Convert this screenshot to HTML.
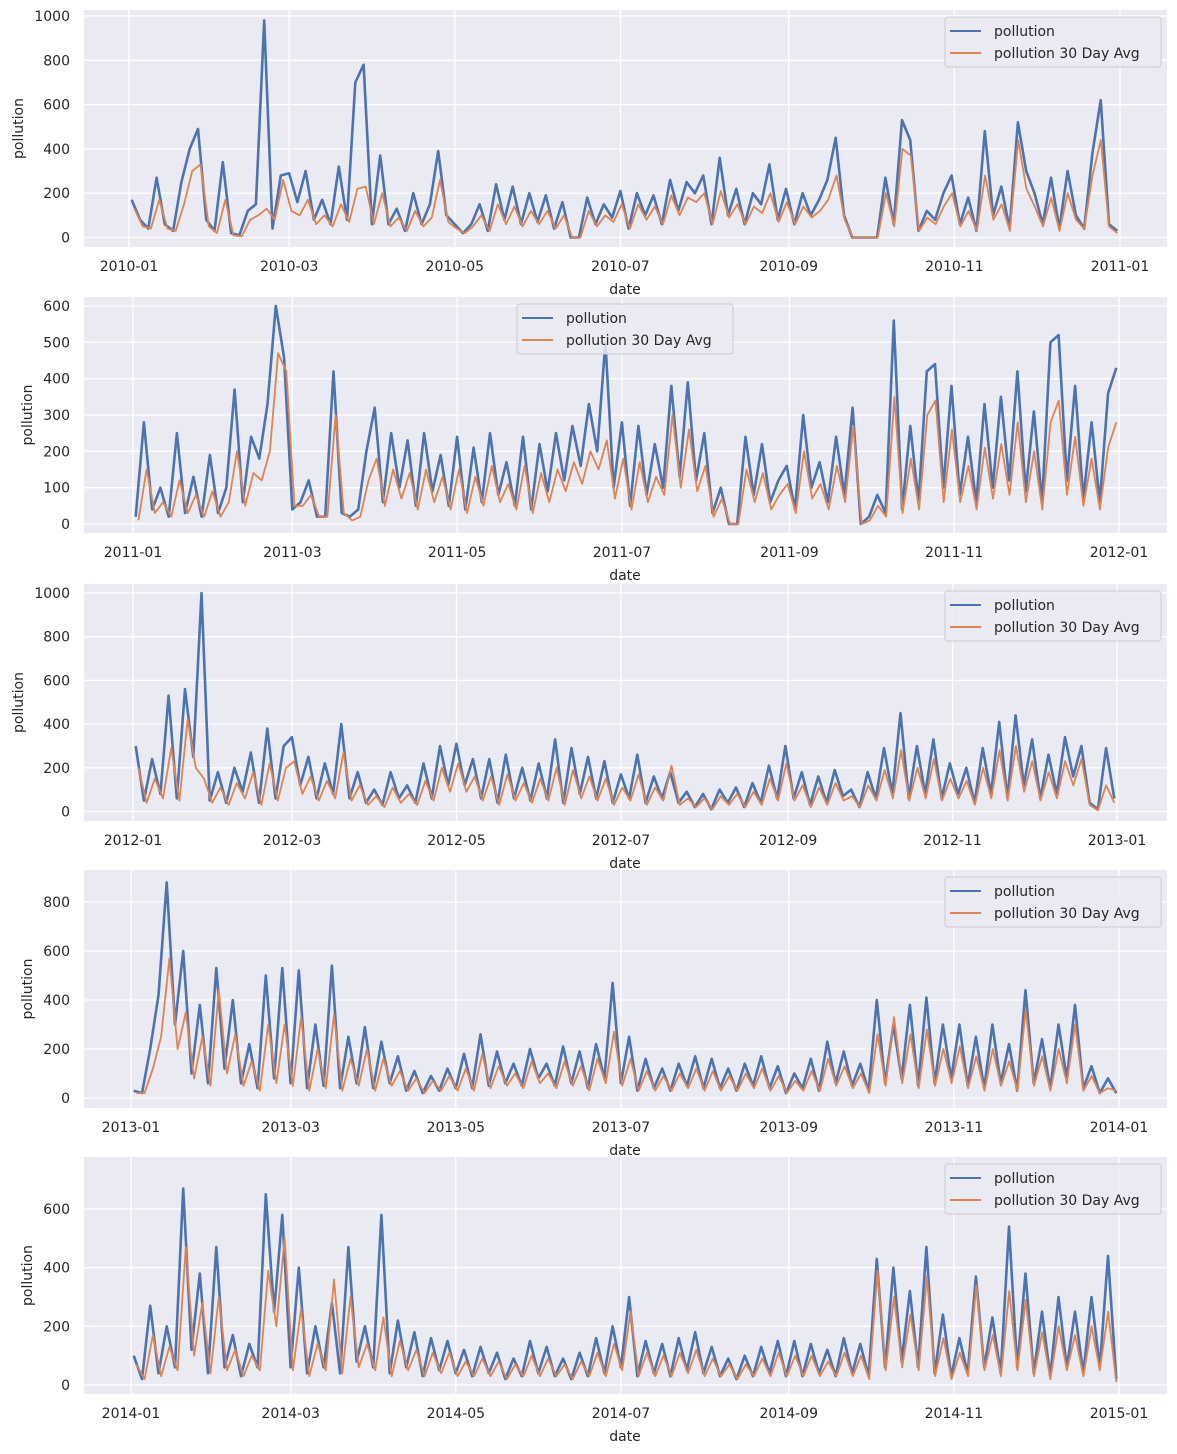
<!DOCTYPE html>
<html><head><meta charset="utf-8">
<style>
html,body{margin:0;padding:0;background:#fff;}
svg{display:block;font-family:"DejaVu Sans","Liberation Sans",sans-serif;}
</style></head>
<body>
<svg id="chart" width="1177" height="1454" viewBox="0 0 1177 1454" xmlns="http://www.w3.org/2000/svg"></svg>
<script>
// ---- data (approx readings, 10 samples per month) ----
const years = ["2010","2011","2012","2013","2014"];
const blue2010 = [170,80,40,270,60,30,250,400,490,80, 30,340,20,10,120,150,980,40,280,290, 160,300,80,170,60,320,80,700,780,60, 370,60,130,30,200,60,150,390,100,60, 20,60,150,30,240,80,230,60,200,70, 190,40,160,0,0,180,60,150,90,210, 40,200,100,190,60,260,120,250,200,280, 60,360,100,220,60,200,150,330,80,220, 60,200,100,170,260,450,100,0,0,0, 0,270,60,530,440,30,120,80,200,280, 60,180,30,480,100,230,40,520,300,200, 60,270,40,300,100,40,380,620,60,30];
const avg2010 = [130,50,40,170,40,30,150,300,330,50, 20,170,10,5,80,100,130,80,260,120, 100,170,60,100,50,150,70,220,230,60, 200,50,90,30,120,50,90,260,70,40, 20,50,100,30,150,60,140,50,120,60, 120,40,100,0,0,120,50,100,70,150, 40,150,80,140,60,190,100,180,160,200, 60,210,90,150,60,140,110,200,70,160, 60,140,90,120,170,280,80,0,0,0, 0,200,50,400,370,30,90,60,140,200, 50,120,30,280,80,150,30,440,220,140, 50,180,30,200,80,40,280,440,50,20];
const blue2011 = [20,280,40,100,20,250,30,130,20,190, 30,100,370,60,240,180,330,600,460,40, 60,120,20,20,420,30,20,40,200,320, 60,250,100,230,50,250,90,190,50,240, 40,210,60,250,80,170,50,240,40,220, 90,250,120,270,160,330,200,500,100,280, 50,270,80,220,100,380,130,390,120,250, 30,100,0,0,240,80,220,60,120,160, 40,300,100,170,60,240,80,320,0,20, 80,30,560,40,270,60,420,440,100,380, 80,240,60,330,100,350,120,420,90,310, 60,500,520,120,380,70,280,60,360,430];
const avg2011 = [10,150,30,60,20,120,30,80,20,90, 20,60,200,50,140,120,200,470,420,50, 50,80,20,20,300,30,10,20,120,180, 50,150,70,140,40,150,60,130,40,150, 30,130,50,160,60,110,40,160,30,140, 60,150,90,170,110,200,150,230,70,180, 40,170,60,130,80,300,100,260,90,160, 20,70,0,0,150,60,140,40,80,110, 30,200,70,110,40,160,60,270,0,10, 50,20,350,30,180,40,300,340,60,260, 60,160,40,210,70,220,80,280,60,200, 40,280,340,80,240,50,180,40,210,280];
const blue2012 = [300,50,240,80,530,60,560,250,1000,50, 180,40,200,90,270,40,380,60,300,340, 120,250,60,220,80,400,60,180,40,100, 30,180,60,120,40,220,60,300,120,310, 120,240,60,240,40,260,60,200,50,220, 60,330,40,290,80,250,60,230,40,170, 60,260,40,160,60,180,40,90,20,80, 10,100,40,110,20,130,40,210,60,300, 60,180,30,160,40,190,70,100,20,180, 60,290,80,450,60,300,80,330,60,220, 80,200,40,290,80,410,60,440,120,330, 60,260,80,340,160,300,40,10,290,60];
const avg2012 = [200,40,150,60,290,50,420,200,150,40, 110,30,130,60,180,30,220,50,200,230, 80,160,50,140,60,270,50,120,30,70, 20,110,40,80,30,140,50,200,90,220, 90,160,50,160,30,170,50,130,40,150, 50,200,30,190,60,160,50,150,30,110, 50,170,30,110,50,210,30,60,20,60, 10,70,30,80,20,90,30,150,50,220, 50,120,20,110,30,130,50,70,20,120, 50,190,60,280,50,200,60,240,50,150, 60,140,30,200,60,280,50,300,90,230, 50,180,60,230,120,240,30,5,120,40];
const blue2013 = [30,20,200,420,880,300,600,100,380,60, 530,120,400,60,220,40,500,80,530,60, 520,40,300,50,540,40,250,60,290,40, 230,60,170,30,110,20,90,30,120,40, 180,40,260,50,190,60,140,50,200,80, 140,50,210,60,190,40,220,80,470,60, 250,30,160,40,120,30,140,50,170,40, 160,40,120,30,140,50,170,40,130,20, 100,40,160,30,230,60,190,50,140,30, 400,60,300,80,380,50,410,60,300,80, 300,50,250,40,300,60,220,30,440,60, 240,40,300,80,380,40,130,20,80,20];
const avg2013 = [20,20,120,250,570,200,350,80,250,50, 440,100,260,50,150,30,300,60,300,50, 330,30,200,40,340,30,160,50,200,30, 160,50,110,30,80,20,70,30,90,30, 120,30,180,40,130,50,100,40,150,60, 100,40,150,50,130,30,160,60,270,50, 160,30,110,30,90,30,100,40,120,30, 110,30,90,30,100,40,120,30,90,20, 70,30,110,30,160,50,130,40,100,20, 260,50,330,60,260,40,280,50,200,60, 210,40,170,30,200,50,150,30,360,50, 170,30,200,60,300,30,90,20,40,30];
const blue2014 = [100,20,270,40,200,60,670,120,380,40, 470,60,170,30,140,60,650,250,580,60, 400,40,200,60,280,40,470,80,200,60, 580,40,220,60,180,30,160,50,150,40, 120,30,130,40,110,20,90,30,150,40, 130,30,90,20,110,30,160,40,200,60, 300,30,150,40,140,30,160,50,180,40, 130,30,90,20,100,30,130,40,150,30, 150,30,140,40,120,30,160,40,140,30, 430,60,400,80,320,60,470,40,240,30, 160,40,370,60,230,40,540,60,380,40, 250,30,300,60,250,40,300,60,440,20];
const avg2014 = [70,20,170,30,130,50,470,100,280,40, 300,50,120,30,100,50,390,200,500,50, 260,30,140,50,360,40,300,60,140,50, 230,30,150,50,120,30,110,40,110,30, 80,30,90,30,80,20,70,30,100,30, 90,30,70,20,80,30,110,30,140,50, 250,30,110,30,100,30,110,40,120,30, 90,30,70,20,70,30,90,30,110,30, 100,30,100,30,80,30,110,30,100,20, 390,50,300,60,240,50,370,30,160,20, 110,30,340,50,170,30,320,50,290,30, 180,20,200,50,170,30,200,50,250,10];
const blueSeries = [blue2010, blue2011, blue2012, blue2013, blue2014];
const avgSeries = [avg2010, avg2011, avg2012, avg2013, avg2014];
const tickMonths = ["01","03","05","07","09","11","01"];
const tickDays = [0,59,120,181,243,304,365];
const yTicks = [[0,200,400,600,800,1000],[0,100,200,300,400,500,600],[0,200,400,600,800,1000],[0,200,400,600,800],[0,200,400,600]];

// ---- layout config ----
const panels = [
  {top:10, bot:247, y0:237.5, yv:1000, yPix:16,  x0:129, x1:1120, legX:945, ylx:18},
  {top:297,bot:533, y0:524,  yv:600,  yPix:306, x0:133, x1:1119, legX:517, ylx:27},
  {top:584,bot:821, y0:811.5,yv:1000, yPix:593, x0:133, x1:1117, legX:945, ylx:18},
  {top:870,bot:1108,y0:1098, yv:800,  yPix:902, x0:131, x1:1119, legX:945, ylx:27},
  {top:1157,bot:1394,y0:1385,yv:600,  yPix:1209,x0:131, x1:1119, legX:945, ylx:27}
];
const L=84, R=1167;
const svg=document.getElementById('chart');
const NS="http://www.w3.org/2000/svg";
function mk(tag,attrs,parent){const e=document.createElementNS(NS,tag);for(const k in attrs)e.setAttribute(k,attrs[k]);(parent||svg).appendChild(e);return e;}

panels.forEach((p,i)=>{
  const g=mk('g',{});
  
  
  const yS=v=>p.y0-(v/p.yv)*(p.y0-p.yPix);
  const xS=d=>p.x0+(d/365)*(p.x1-p.x0);
  const bg=mk('rect',{x:L,y:p.top,width:R-L,height:p.bot-p.top,fill:'#eaeaf2'},g);
  
  
  yTicks[i].forEach(v=>{
    const y=yS(v);
    const gl=mk('line',{x1:L,x2:R,y1:y,y2:y,stroke:'#fff','stroke-width':1.3},g);
    
    
    const t=mk('text',{x:L-14,y:y+5,'text-anchor':'end','font-size':14,fill:'#262626'},g);
    t.textContent=v;
    
    
  });
  tickDays.forEach((d,k)=>{
    const x=xS(d);
    const gl=mk('line',{x1:x,x2:x,y1:p.top,y2:p.bot,stroke:'#fff','stroke-width':1.3},g);
    
    
    const yr=k===6?String(+years[i]+1):years[i];
    const t=mk('text',{x:x,y:p.bot+24,'text-anchor':'middle','font-size':14,fill:'#262626'},g);
    t.textContent=yr+'-'+tickMonths[k];
    
    
  });
  const xl=mk('text',{x:625,y:p.bot+47,'text-anchor':'middle','font-size':14,fill:'#262626'},g);
  xl.textContent='date';
  
  
  const cy=(p.top+p.bot)/2;
  const yl=mk('text',{x:p.ylx+5,y:cy,'text-anchor':'middle','font-size':14,fill:'#262626',transform:`rotate(-90 ${p.ylx+5} ${cy})`},g);
  yl.textContent='pollution';
  
  
  const bl=blueSeries[i], av=avgSeries[i];
  const bp=bl.map((v,j)=>xS(1+j*(363/(bl.length-1))).toFixed(1)+','+yS(v).toFixed(1)).join(' ');
  const l1=mk('polyline',{points:bp,fill:'none',stroke:'#4c72b0','stroke-width':2.6,'stroke-linejoin':'round'},g);
  
  
  const ap=av.map((v,j)=>xS(2+j*(362/(av.length-1))).toFixed(1)+','+yS(v).toFixed(1)).join(' ');
  const l2=mk('polyline',{points:ap,fill:'none',stroke:'#dd8452','stroke-width':1.8,'stroke-linejoin':'round'},g);
  
  
  // legend
  const lg=mk('g',{},g);
  
  
  const ly=p.top+7;
  mk('rect',{x:p.legX,y:ly,width:216,height:50,rx:3,fill:'#eaeaf2','fill-opacity':0.85,stroke:'#cccccc'},lg);
  mk('line',{x1:p.legX+5,x2:p.legX+36,y1:ly+14,y2:ly+14,stroke:'#4c72b0','stroke-width':2},lg);
  mk('line',{x1:p.legX+5,x2:p.legX+36,y1:ly+36,y2:ly+36,stroke:'#dd8452','stroke-width':2},lg);
  const e1=mk('text',{x:p.legX+49,y:ly+19,'font-size':14,fill:'#262626'},lg);
  e1.textContent='pollution';
  
  
  const e2=mk('text',{x:p.legX+49,y:ly+41,'font-size':14,fill:'#262626'},lg);
  e2.textContent='pollution 30 Day Avg';
  
  
});
</script>
</body></html>
